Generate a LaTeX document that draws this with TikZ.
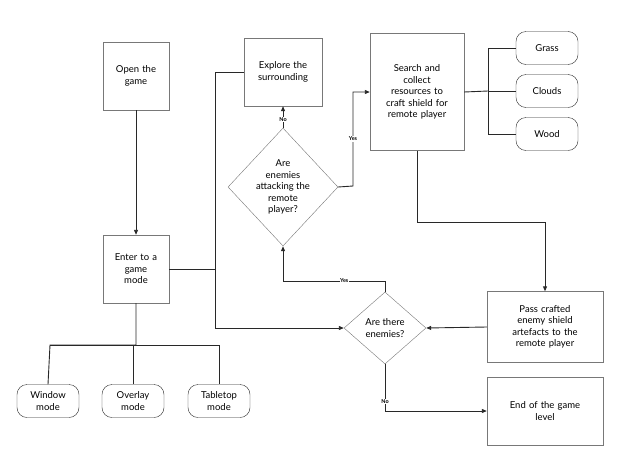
\documentclass[tikz,border=0pt]{standalone}
\usepackage{fontspec}
\setmainfont{Lato}
\usetikzlibrary{shapes.geometric, arrows.meta, positioning, calc}
\definecolor{frame-gray}{RGB}{120,120,120}
\definecolor{line-dark}{RGB}{40,40,40}

\begin{document}
\begin{tikzpicture}[
    x=1pt, y=-1pt,
    box/.style={rectangle, draw=frame-gray, fill=white, align=center, font=\fontsize{9.5}{11.5}\selectfont, inner sep=2pt},
    pill/.style={rectangle, draw=line-dark, rounded corners=10pt, fill=white, align=center, font=\fontsize{9.5}{11.5}\selectfont, minimum width=62pt, minimum height=33pt},
    decision/.style={diamond, draw=frame-gray, fill=white, align=center, font=\fontsize{9.5}{11.5}\selectfont, inner sep=0pt},
    link/.style={draw=line-dark, line width=0.9pt, -{Triangle[length=5pt,width=4pt]}},
    plain/.style={draw=line-dark, line width=0.9pt},
    tag/.style={font=\fontsize{5.5}{6}\selectfont\bfseries, fill=white, inner sep=0.5pt}
]
\useasboundingbox (0,0) rectangle (620,474);

% left column
\node[box, minimum width=66pt, minimum height=68pt, text width=60pt] (open) at (136,76) {Open the\\game\\[18pt]};
\node[box, minimum width=66pt, minimum height=68pt, text width=60pt] (enter) at (136,269) {Enter to a\\game\\mode\\[6pt]};

% modes
\node[pill] (window) at (48,401) {Window\\mode};
\node[pill] (overlay) at (133,401) {Overlay\\mode};
\node[pill] (tabletop) at (219,401) {Tabletop\\mode};

% middle
\node[box, minimum width=78pt, minimum height=68pt, text width=74pt] (explore) at (283,72) {Explore the\\surrounding\\[18pt]};
\node[decision, minimum width=110pt, minimum height=118pt] (attack) at (283,187) {Are\\enemies\\attacking the\\remote\\player?};
\node[box, minimum width=94pt, minimum height=117pt, text width=90pt] (search) at (417,92) {Search and\\collect\\resources to\\craft shield for\\remote player\\[14pt]};
\node[decision, minimum width=82pt, minimum height=72pt] (there) at (385,328) {Are there\\enemies?};

% right column
\node[pill] (grass) at (547,48) {Grass};
\node[pill] (clouds) at (547,91) {Clouds};
\node[pill] (wood) at (547,134) {Wood};
\node[box, minimum width=116pt, minimum height=71pt, text width=110pt] (pass) at (545,327) {Pass crafted\\enemy shield\\artefacts to the\\remote player};
\node[box, minimum width=116pt, minimum height=68pt, text width=110pt] (end) at (545,411) {End of the game\\level\\[8pt]};

% connectors
\draw[link] (open) -- (enter);
\draw[plain] (enter.south) |- (50,345) -- (window.north);
\draw[plain] (50,345) -| (tabletop.north);
\draw[plain] (overlay.north) -- (133,345);
\draw[plain] (enter.east) -- (215,269) |- (explore.west);
\draw[link] (215,269) |- (there.west);
\draw[link] (attack.north) -- node[tag, pos=0.4] {No} (explore.south);
\draw[link] (attack.east) -- (353,186) |- node[tag, pos=0.25] {Yes} (search.west);
\draw[plain] (search.east) -- (488,91);
\draw[plain] (grass.west) -| (488,134) -- (wood.west);
\draw[plain] (488,91) -- (clouds.west);
\draw[link] (search.south) |- (545,222) -- (pass.north);
\draw[link] (pass.west) -- (there.east);
\draw[link] (there.north) |- node[tag, pos=0.7] {Yes} (283,281) -- (attack.south);
\draw[link] (there.south) |- node[tag, pos=0.4] {No} (end.west);
\end{tikzpicture}
\end{document}
